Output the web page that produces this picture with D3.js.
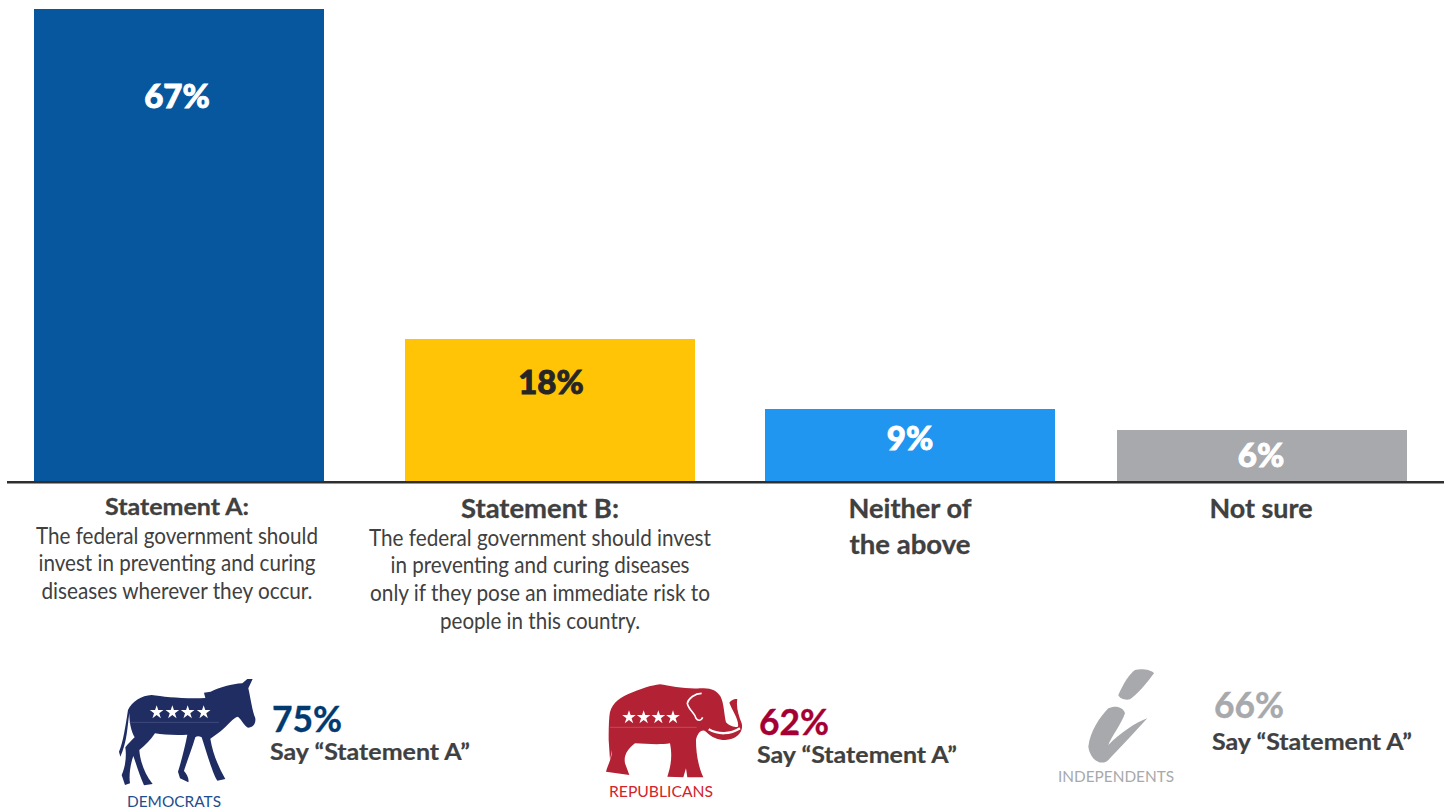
<!DOCTYPE html>
<html><head><meta charset="utf-8">
<script src="https://cdn.jsdelivr.net/npm/d3@7"></script>
<style>html,body{margin:0;padding:0;background:#fff;overflow:hidden}svg{display:block}text{font-family:Lato,"Noto Sans",sans-serif}</style>
</head><body><div id="c"></div>
<script>
const categories = ["Statement A","Statement B","Neither of the above","Not sure"];
const values = [67,18,9,6];
const valueLabels = ["67%","18%","9%","6%"];
const barColors = ["#07579f","#ffc405","#2196f0","#a7a9ac"];
const labelColors = ["#ffffff","#262626","#ffffff","#ffffff"];
const headings = [["Statement A:"],["Statement B:"],["Neither of","the above"],["Not sure"]];
const bodies = [
 ["The federal government should","invest in preventing and curing","diseases wherever they occur."],
 ["The federal government should invest","in preventing and curing diseases","only if they pose an immediate risk to","people in this country."],
 [],[]];
const parties = ["DEMOCRATS","REPUBLICANS","INDEPENDENTS"];
const partyShares = ["75%","62%","66%"];
const partySay = "Say “Statement A”";

const W=1444,H=809;
const svg=d3.select("#c").append("svg").attr("width",W).attr("height",H).attr("viewBox",[0,0,W,H]);
const x=d3.scaleOrdinal().domain(categories).range([34,405,765,1117]);
const barW=290;
// the source's bars are not strictly proportional; this scale follows the heights as drawn
const y=d3.scaleLinear().domain([0,6,9,18,67]).range([482,430,409,339,9]);

svg.selectAll("rect.bar").data(categories).join("rect").attr("class","bar")
 .attr("x",d=>x(d)).attr("width",barW)
 .attr("y",(d,i)=>y(values[i])).attr("height",(d,i)=>y(0)-y(values[i]))
 .attr("fill",(d,i)=>barColors[i]);
svg.append("line").attr("x1",7).attr("x2",W).attr("y1",y(0)+0.2).attr("y2",y(0)+0.2).attr("stroke","#2f2f2f").attr("stroke-width",2.4);

const valueBase=[108,394,450,467];
const valueX=[177,551,910,1261];
svg.selectAll("text.val").data(valueLabels).join("text").attr("class","val")
 .attr("x",(d,i)=>valueX[i]).attr("y",(d,i)=>valueBase[i]).attr("text-anchor","middle")
 .attr("font-size",33).attr("font-weight",900).attr("fill",(d,i)=>labelColors[i])
 .attr("stroke",(d,i)=>labelColors[i]).attr("stroke-width",0.9).text(d=>d);

function put(t,xx,yy,size,weight,fill,anchor,len,sw){
 const n=svg.append("text").attr("x",xx).attr("y",yy).attr("font-size",size).attr("font-weight",weight)
  .attr("fill",fill).attr("text-anchor",anchor||"middle").text(t);
 if(len) n.attr("textLength",len).attr("lengthAdjust","spacingAndGlyphs");
 if(sw) n.attr("stroke",fill).attr("stroke-width",sw);
 return n;
}
const grey="#404040";
put(headings[0][0],177,515,23.5,700,grey,"middle",144,0.3);
[[282,544],[277,571],[271,599]].forEach((p,i)=>put(bodies[0][i],177,p[1],23,400,grey,"middle",p[0]));
put(headings[1][0],540,518,26.5,700,grey,"middle",158,0.3);
[[342,546],[299,573],[340,601],[200,629]].forEach((p,i)=>put(bodies[1][i],540,p[1],23,400,grey,"middle",p[0]));
put(headings[2][0],910,518,26.5,700,grey,"middle",123,0.3);
put(headings[2][1],910,554,26.5,700,grey,"middle",121,0.3);
put(headings[3][0],1261,518,26.5,700,grey,"middle",103,0.3);

// party icons: outlines traced in 3x crop space
const donkey="M84,150C95,125 125,106 155,105C190,110 250,117 316,114L312,98L332,95C360,82 395,72 427,70L442,57L458,57L445,85C452,115 456,150 466,175C468,192 458,203 444,203C432,197 424,178 414,170C400,172 385,195 360,215L331,236C338,280 355,320 376,357L352,362C340,345 322,285 305,232C298,228 290,228 286,232C274,272 258,312 252,333C260,342 268,355 265,367L240,355L234,335C245,300 255,260 262,224C225,226 190,224 165,220C152,240 136,256 118,270C120,300 132,340 158,372L132,376C118,345 108,310 100,288C92,310 86,345 90,370L75,375L65,345C76,320 80,290 76,262C86,250 96,240 104,232C94,215 88,190 88,160C82,200 82,245 61,290L57,275C70,245 76,200 84,150Z";
const elephant="M58,170C60,135 85,115 115,102C150,88 185,75 210,73C240,78 290,88 330,85C360,82 380,90 392,110C402,130 402,160 408,187C418,197 430,203 444,200C448,180 426,150 418,128C426,118 436,115 442,118C438,140 445,165 455,190C462,215 440,238 405,240C385,240 365,232 348,215C335,205 322,220 318,240C318,280 325,320 340,352L292,352L288,325L280,352L232,350C242,320 248,290 240,250C210,255 170,252 135,250C115,265 100,285 105,310L118,345L48,335C55,310 66,295 66,270L60,300L56,240C56,215 56,195 58,170Z";
const tusk="M356,208C385,224 420,224 450,205";
const ear="M335,100C315,100 295,115 292,130C296,150 314,158 318,175C324,184 334,182 338,172";
const iDot="M235,105C250,70 270,40 285,30C305,25 335,30 342,40C320,70 290,105 270,118C255,122 238,115 235,105Z";
const iBody="M205,145C225,135 250,140 255,160C245,190 215,230 205,255C240,220 290,185 322,175C280,220 235,270 205,300C185,320 150,300 145,260C150,215 180,170 205,145Z";
const star=d3.symbol().type(d3.symbolStar).size(520);

const gD=svg.append("g").attr("transform","translate(100,660) scale(0.3333)");
gD.append("path").attr("d",donkey).attr("fill","#1f2d63");
gD.append("line").attr("x1",88).attr("x2",357).attr("y1",187).attr("y2",187).attr("stroke","#5f6a94").attr("stroke-width",1.5);
gD.selectAll("path.s").data([170,217,263,311]).join("path").attr("class","s").attr("d",star).attr("fill","#fff").attr("transform",d=>`translate(${d},157)`);

const gE=svg.append("g").attr("transform","translate(590,660) scale(0.3333)");
gE.append("path").attr("d",elephant).attr("fill","#b22234");
gE.append("path").attr("d",tusk).attr("fill","none").attr("stroke","#fff").attr("stroke-width",7);
gE.append("path").attr("d",ear).attr("fill","none").attr("stroke","#fff").attr("stroke-width",5);
gE.append("line").attr("x1",60).attr("x2",320).attr("y1",202).attr("y2",202).attr("stroke","#cf7a84").attr("stroke-width",1.5);
gE.selectAll("path.s").data([117,161,205,249]).join("path").attr("class","s").attr("d",star).attr("fill","#fff").attr("transform",d=>`translate(${d},172)`);

const gI=svg.append("g").attr("transform","translate(1040,660) scale(0.3333)").attr("fill","#a7a9ac");
gI.append("path").attr("d",iDot);
gI.append("path").attr("d",iBody);

const shareColors=["#003a70","#a50034","#a7a9ac"];
const partyColors=["#1f4e8c","#d2232a","#a7a9ac"];
const shareX=[272,759,1214],shareY=[732,735,718],sayX=[270,757,1212],sayY=[760,763,750];
const partyX=[174,661,1116],partyY=[807,797,782],partyLen=[94,104,116];
parties.forEach((p,i)=>{
 put(partyShares[i],shareX[i],shareY[i],37,700,shareColors[i],"start",70,0.4);
 put(partySay,sayX[i],sayY[i],23,700,grey,"start",200,0.2);
 put(p,partyX[i],partyY[i],16,400,partyColors[i],"middle",partyLen[i]);
});
</script></body></html>
